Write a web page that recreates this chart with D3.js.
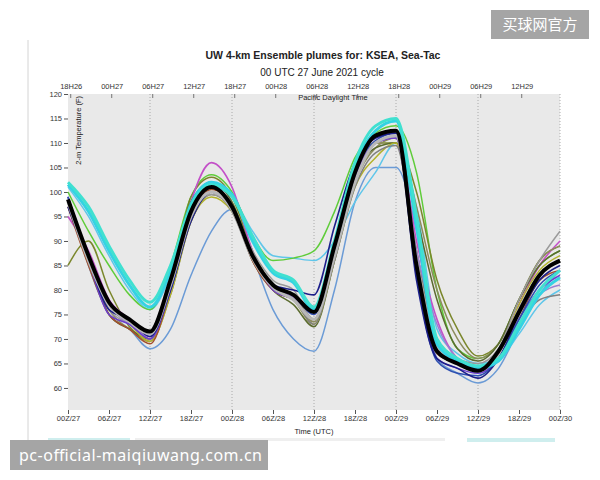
<!DOCTYPE html>
<html>
<head>
<meta charset="utf-8">
<script src="https://d3js.org/d3.v7.min.js"></script>
<style>
  body { margin: 0; background: #ffffff; }
  text { font-family: "Liberation Sans", Arial, sans-serif; }
</style>
</head>
<body>
<div id="plume"></div>
<script>
// time axis (hours after 00Z 27 June)
var hours = [0, 3, 6, 9, 12, 15, 18, 21, 24, 27, 30, 33, 36, 39, 42, 45, 48, 51, 54, 57, 60, 63, 66, 69, 72];

var utcHours = [0, 6, 12, 18, 24, 30, 36, 42, 48, 54, 60, 66, 72];
var utcLabels = ["00Z/27", "06Z/27", "12Z/27", "18Z/27", "00Z/28", "06Z/28", "12Z/28", "18Z/28", "00Z/29", "06Z/29", "12Z/29", "18Z/29", "00Z/30"];
var pdtHours = [0.4, 6.4, 12.4, 18.4, 24.4, 30.4, 36.4, 42.4, 48.4, 54.4, 60.4, 66.4];
var pdtLabels = ["18H26", "00H27", "06H27", "12H27", "18H27", "00H28", "06H28", "12H28", "18H28", "00H29", "06H29", "12H29"];
var gridHours = [12, 24, 36, 48, 60, 72];
var tempTicks = [60, 65, 70, 75, 80, 85, 90, 95, 100, 105, 110, 115, 120];

// ensemble members (deg F, every 3 h)
var lowBlue    = [99, 85, 75, 72, 68, 72, 83, 92, 96.5, 87, 76, 70, 67.5, 80, 98, 105, 105, 92, 66, 63, 61, 64, 72, 79, 84];
var skyBlue    = [101, 95, 87, 80, 76, 83, 96, 101, 99, 92, 87, 86.5, 86, 90, 98, 104, 110, 97, 72, 67, 65, 66, 71, 77, 80];
var green      = [100, 92, 85, 79, 76, 85, 99, 103.5, 100, 91, 86, 86.5, 88, 96, 107, 112, 113.5, 104, 80, 68, 66, 69, 78, 85, 88];
var olive      = [85, 90, 80, 72.5, 70, 80, 99, 103, 99, 88, 81, 79, 74, 87, 104, 110, 110, 100, 82, 72, 66.5, 69, 78, 86, 89];
var magenta    = [95, 88, 78, 74, 70, 80, 98, 106, 101, 88, 80, 78, 74, 88, 104, 111, 112, 90, 74, 66, 64, 67, 77, 85, 90];
var navy       = [97, 86, 76, 74, 70.5, 80, 94, 100, 97, 87, 81, 80, 79, 93, 106, 111, 112, 82, 66, 64, 62, 66, 75, 82, 85];
var blueViolet = [99, 86, 75, 73, 70, 80, 95, 100, 97, 87, 80, 78, 74, 88, 103, 110, 111, 84, 66, 64, 63, 66, 74, 80, 83];
var brown      = [97, 85, 75, 72, 69, 80, 95, 100.5, 97, 86, 80, 78, 74, 88, 103, 110, 111, 86, 67, 65, 63.5, 66, 74, 82, 84];
var grayA      = [98, 86, 76, 73, 70, 80, 95, 99.5, 97, 88, 82, 80, 74, 86, 102, 110, 111, 86, 70, 66, 65, 68, 78, 86, 92];
var grayB      = [99, 87, 77, 74, 71, 81, 96, 100, 96, 86, 80, 78, 73, 86, 101, 108, 109.5, 88, 70, 66, 64, 66, 73, 78, 79];
var grayC      = [98, 86, 77, 73.5, 71, 81, 95, 100, 96.5, 86.5, 80.5, 78, 74, 87, 102, 110, 111.5, 86, 68, 65, 63.5, 67, 76, 83, 86];
var yellowOl   = [98, 87, 77, 73, 69.5, 79, 94, 99, 96, 87, 81, 78, 73, 86, 101, 107, 110, 88, 70, 66, 64, 67, 77, 84, 87];
var darkOlive  = [97, 86, 75, 72, 70, 82, 98, 102, 98, 87, 80, 77, 72.5, 86, 103, 109, 110, 95, 78, 68, 65.5, 69, 78, 85, 88];
var khaki      = [98, 86, 76, 72, 69.5, 79, 94, 99.5, 96.5, 86, 80, 78, 73.5, 87, 102, 109, 111, 97, 80, 70, 66, 69, 78, 86, 89];
var medBlue    = [99, 87, 77, 74, 71, 80, 95, 100, 97, 87, 81, 79, 75, 88, 104, 110.5, 112, 83, 65.5, 63, 62.5, 66, 74, 81, 84];
var lavender   = [98, 87, 77, 73, 70.5, 80, 95, 100, 97, 87, 80.5, 78.5, 75, 88, 103, 110, 111, 88, 73, 66, 64, 66, 73, 79, 81];
var turqA      = [102, 97, 89, 82, 77.5, 85, 97, 101.5, 99, 91, 84, 82, 76.5, 90, 106, 113.5, 115, 95, 70, 66, 64.5, 66, 73, 80, 84];
var turqB      = [101.5, 96, 88, 81, 76.5, 84, 97.5, 102, 99.5, 90, 83.5, 81.5, 76, 89.5, 105, 112.5, 114.5, 93, 69, 65.5, 64, 65.5, 72, 79, 82.5];
// ensemble mean
var ensMean    = [98.5, 87, 77.5, 74, 71.5, 82, 96, 101, 97, 87, 81, 79, 75.5, 89, 104, 111.5, 112.5, 85, 67.5, 65, 63.5, 67.5, 75.5, 83, 86];

var svgWidth = 600;
var svgHeight = 480;

var margin = { top: 94, right: 40, bottom: 70, left: 68 };
var chartWidth = 560 - margin.left;
var chartHeight = 410 - margin.top;

var svg = d3.select("#plume")
  .append("svg")
  .attr("width", svgWidth)
  .attr("height", svgHeight);

// photo frame edge
svg.append("line")
  .attr("x1", 28).attr("x2", 28)
  .attr("y1", 40).attr("y2", 440)
  .attr("stroke", "#d4d4d4");

// titles
svg.append("text")
  .attr("x", 323).attr("y", 59)
  .attr("text-anchor", "middle")
  .style("font-size", "10.5px")
  .style("font-weight", "bold")
  .attr("fill", "#222")
  .text("UW 4-km Ensemble plumes for: KSEA, Sea-Tac");

svg.append("text")
  .attr("x", 322).attr("y", 76)
  .attr("text-anchor", "middle")
  .style("font-size", "10px")
  .attr("fill", "#222")
  .text("00 UTC 27 June 2021 cycle");

var chartGroup = svg.append("g")
  .attr("transform", `translate(${margin.left}, ${margin.top})`);

// Step 1: scales
var xScale = d3.scaleLinear().domain([0, 72]).range([0, chartWidth]);
var yScale = d3.scaleLinear().domain([55.5, 120]).range([chartHeight, 0]);

// Step 2: plot background and grid
chartGroup.append("rect")
  .attr("width", chartWidth)
  .attr("height", chartHeight)
  .attr("fill", "#e9e9e9");

chartGroup.selectAll(".vgrid")
  .data(gridHours)
  .enter()
  .append("line")
  .attr("class", "vgrid")
  .attr("x1", d => xScale(d)).attr("x2", d => xScale(d))
  .attr("y1", 0).attr("y2", chartHeight)
  .attr("stroke", "#9a9a9a")
  .attr("stroke-width", 0.8)
  .attr("stroke-dasharray", "1,2");

// Step 3: axes
var leftAxis = d3.axisLeft(yScale).tickValues(tempTicks).tickSize(4).tickPadding(2);
var yAxisG = chartGroup.append("g").call(leftAxis);
yAxisG.select(".domain").remove();

var bottomAxis = d3.axisBottom(xScale)
  .tickValues(utcHours)
  .tickSize(4)
  .tickPadding(2)
  .tickFormat((d, i) => utcLabels[i]);
var xAxisG = chartGroup.append("g")
  .attr("transform", `translate(0, ${chartHeight})`)
  .call(bottomAxis);
xAxisG.select(".domain").remove();

var topAxis = d3.axisTop(xScale)
  .tickValues(pdtHours)
  .tickSize(0)
  .tickPadding(5)
  .tickFormat((d, i) => pdtLabels[i]);
var topG = chartGroup.append("g").call(topAxis);
topG.select(".domain").remove();

// little top tick marks inside the plot
chartGroup.selectAll(".ttick")
  .data(pdtHours)
  .enter()
  .append("line")
  .attr("x1", d => xScale(d)).attr("x2", d => xScale(d))
  .attr("y1", 0).attr("y2", 4)
  .attr("stroke", "#555")
  .attr("stroke-width", 0.8);

[yAxisG, xAxisG, topG].forEach(function(g) {
  g.selectAll("text").style("font-size", "7.5px").attr("fill", "#333");
  g.selectAll("line").attr("stroke", "#555");
});

// Step 4: member lines
var members = [
  { v: lowBlue, c: "#6b9bd6", w: 1.5 },
  { v: skyBlue, c: "#5fc6ea", w: 1.5 },
  { v: green, c: "#5fcc3a", w: 1.5 },
  { v: olive, c: "#7b872c", w: 1.5 },
  { v: magenta, c: "#c350c8", w: 1.6 },
  { v: khaki, c: "#8c8c5c", w: 1.5 },
  { v: darkOlive, c: "#5b6b2f", w: 1.5 },
  { v: yellowOl, c: "#b2b22c", w: 1.5 },
  { v: grayA, c: "#9a9a9a", w: 1.5 },
  { v: grayB, c: "#808080", w: 1.5 },
  { v: brown, c: "#a4502c", w: 1.5 },
  { v: lavender, c: "#9b80d2", w: 1.5 },
  { v: blueViolet, c: "#6a3fcf", w: 1.5 },
  { v: medBlue, c: "#2e4fb0", w: 1.5 },
  { v: navy, c: "#1c1f8a", w: 1.6 },
  { v: grayC, c: "#b8b8b8", w: 3 },
  { v: turqB, c: "#33d3e3", w: 3 },
  { v: turqA, c: "#40e0d0", w: 3 }
];

var line = d3.line()
  .x((d, i) => xScale(hours[i]))
  .y(d => yScale(d))
  .curve(d3.curveMonotoneX);

chartGroup.selectAll(".member")
  .data(members)
  .enter()
  .append("path")
  .attr("class", "member")
  .attr("d", d => line(d.v))
  .attr("fill", "none")
  .attr("stroke", d => d.c)
  .attr("stroke-width", d => d.w)
  .attr("stroke-linejoin", "round");

chartGroup.append("path")
  .attr("d", line(ensMean))
  .attr("fill", "none")
  .attr("stroke", "#000")
  .attr("stroke-width", 4)
  .attr("stroke-linejoin", "round");

// Step 5: axis labels
chartGroup.append("text")
  .attr("x", 265).attr("y", 5.5)
  .attr("text-anchor", "middle")
  .style("font-size", "7.5px")
  .attr("fill", "#222")
  .text("Pacific Daylight Time");

chartGroup.append("text")
  .attr("transform", "translate(13, 2) rotate(-90)")
  .attr("text-anchor", "end")
  .style("font-size", "7.5px")
  .attr("fill", "#222")
  .text("2-m Temperature (F)");

chartGroup.append("text")
  .attr("x", 246).attr("y", chartHeight + 24)
  .attr("text-anchor", "middle")
  .style("font-size", "7.5px")
  .attr("fill", "#222")
  .text("Time (UTC)");

// page strips below the photo
svg.append("rect").attr("x", 48).attr("y", 438).attr("width", 82).attr("height", 4).attr("fill", "#cfeeee");
svg.append("rect").attr("x", 135).attr("y", 438).attr("width", 310).attr("height", 3).attr("fill", "#efefef");
svg.append("rect").attr("x", 467).attr("y", 438).attr("width", 88).attr("height", 4).attr("fill", "#cfeeee");

// watermarks
svg.append("rect").attr("x", 491).attr("y", 10).attr("width", 98).attr("height", 29).attr("fill", "#a5a5a5");
svg.append("text")
  .attr("x", 540).attr("y", 30)
  .attr("text-anchor", "middle")
  .style("font-family", "'Noto Sans CJK SC', sans-serif")
  .style("font-size", "15px")
  .attr("fill", "#fff")
  .text("买球网官方");

svg.append("rect").attr("x", 10).attr("y", 440).attr("width", 258).attr("height", 30).attr("fill", "#a5a5a5");
svg.append("text")
  .attr("x", 19).attr("y", 461)
  .style("font-family", "'Noto Sans', sans-serif")
  .style("font-size", "16px")
  .attr("textLength", 243)
  .attr("fill", "#fff")
  .text("pc-official-maiqiuwang.com.cn");
</script>
</body>
</html>
